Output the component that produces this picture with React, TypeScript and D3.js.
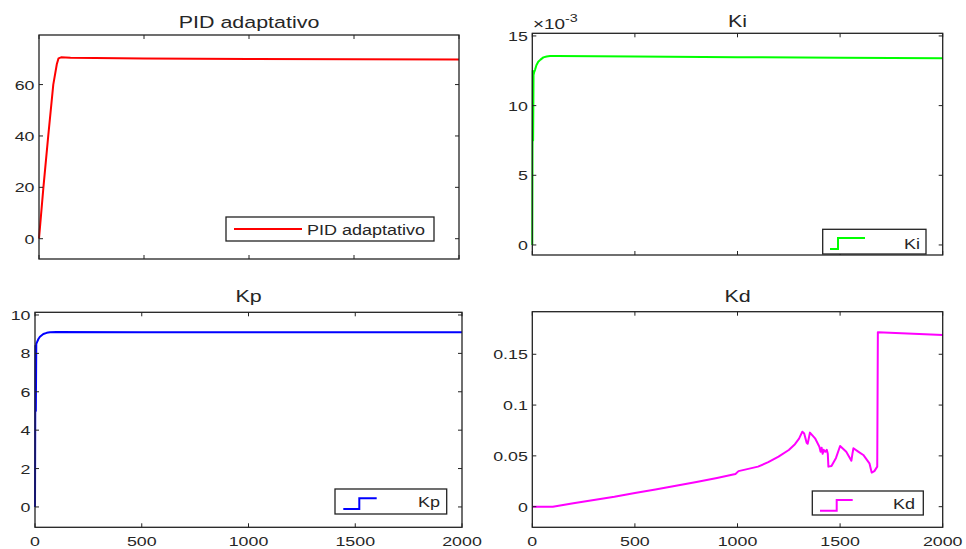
import React from "react";
import * as d3 from "d3";

// ---------- data ----------
const T_PID = [0, 21, 44, 68, 85, 93, 105, 150, 500, 1000, 1500, 2000];
const V_PID = [0, 20, 40, 60, 68, 70.2, 70.6, 70.4, 70.2, 70.0, 69.9, 69.8];

const T_KI = [0, 2, 4, 6, 9, 13, 20, 29, 40, 54, 70, 86, 120, 500, 1000, 1500, 2000];
const V_KI = [0, 0.0125, 0.0075, 0.0122, 0.0124, 0.01255, 0.0129, 0.01315, 0.0133, 0.01346, 0.01353, 0.01356, 0.01356, 0.01352, 0.01348, 0.01344, 0.0134];

const T_KP = [0, 2, 4, 6, 10, 16, 23, 39, 55, 70, 100, 500, 1000, 1500, 2000];
const V_KP = [0, 8.4, 5.0, 8.5, 8.6, 8.75, 8.87, 9.01, 9.07, 9.1, 9.11, 9.1, 9.1, 9.1, 9.1];

const T_KD = [0, 100, 200, 300, 400, 500, 600, 700, 800, 900, 990, 1005, 1100, 1150, 1200, 1250, 1280, 1300, 1316, 1325, 1337, 1342, 1353, 1378, 1399, 1405, 1410, 1415, 1420, 1428, 1435, 1440, 1443, 1458, 1480, 1500, 1530, 1555, 1560, 1565, 1590, 1613, 1643, 1654, 1667, 1681, 1684, 2000];
const V_KD = [0, 0, 0.0033, 0.0066, 0.0098, 0.0135, 0.0168, 0.0205, 0.0243, 0.0283, 0.0322, 0.035, 0.0394, 0.0438, 0.0492, 0.0558, 0.0615, 0.067, 0.0738, 0.072, 0.063, 0.062, 0.0729, 0.0673, 0.059, 0.054, 0.058, 0.052, 0.056, 0.054, 0.056, 0.052, 0.0394, 0.040, 0.048, 0.0597, 0.054, 0.0453, 0.052, 0.0575, 0.054, 0.0509, 0.0427, 0.0335, 0.035, 0.0394, 0.1716, 0.169];

const X_TICKS = [0, 500, 1000, 1500, 2000];
const Y_TICKS_PID = [0, 20, 40, 60];
const Y_TICKS_KI = [0, 0.005, 0.01, 0.015];
const Y_TICKS_KP = [0, 2, 4, 6, 8, 10];
const Y_TICKS_KD = [0, 0.05, 0.1, 0.15];

const TITLES = ["PID adaptativo", "Ki", "Kp", "Kd"];
const LEGENDS = ["PID adaptativo", "Ki", "Kp", "Kd"];

// ---------- styling ----------
const SX = 1.32;
const FONT = "'Liberation Sans', Arial, Helvetica, sans-serif";
const TEXT = "#262626";

function Txt({ x, y, size, anchor = "start", sx = SX, children }: any) {
  return (
    <text
      transform={`translate(${x},${y}) scale(${sx},1)`}
      fontSize={size}
      textAnchor={anchor}
      fontFamily={FONT}
      fill={TEXT}
    >
      {children}
    </text>
  );
}

type PanelProps = {
  box: { l: number; r: number; t: number; b: number };
  yDomain: [number, number];
  t: number[];
  v: number[];
  color: string;
  yTicks: number[];
  fmt: (d: number) => string;
  xLabels: boolean;
  title: string;
  titleY: number;
  legend: { x0: number; x1: number; y0: number; y1: number; label: string; step: boolean; iconX: [number, number, number]; iconY: [number, number]; textX: number; textY: number; anchor: string };
};

function Panel(p: PanelProps) {
  const { box } = p;
  const x = d3.scaleLinear().domain([0, 2000]).range([box.l, box.r]);
  const y = d3.scaleLinear().domain(p.yDomain).range([box.b, box.t]);
  const pts = p.t.map((tt, i) => [tt, p.v[i]] as [number, number]);
  const line = d3.line<[number, number]>().x((d) => x(d[0])).y((d) => y(d[1]));
  const tl = 4;
  const lg = p.legend;
  return (
    <g>
      <path d={line(pts) || ""} fill="none" stroke={p.color} strokeWidth={2} strokeLinejoin="round" />
      {X_TICKS.map((d) => (
        <g key={"x" + d}>
          <line x1={x(d)} x2={x(d)} y1={box.b} y2={box.b - tl} stroke="#222" />
          <line x1={x(d)} x2={x(d)} y1={box.t} y2={box.t + tl} stroke="#222" />
        </g>
      ))}
      {p.yTicks.map((d) => (
        <g key={"y" + d}>
          <line x1={box.l} x2={box.l + tl} y1={y(d)} y2={y(d)} stroke="#222" />
          <line x1={box.r} x2={box.r - tl} y1={y(d)} y2={y(d)} stroke="#222" />
          <Txt x={box.l - 4.5} y={y(d) + 5} size={13.5} anchor="end">
            {p.fmt(d)}
          </Txt>
        </g>
      ))}
      {p.xLabels &&
        X_TICKS.map((d) => (
          <Txt key={"xl" + d} x={x(d)} y={546} size={13.5} anchor="middle">
            {String(d)}
          </Txt>
        ))}
      <rect x={box.l} y={box.t} width={box.r - box.l} height={box.b - box.t} fill="none" stroke="#222" strokeWidth={1.3} />
      <Txt x={(box.l + box.r) / 2} y={p.titleY} size={16.5} anchor="middle" sx={1.3}>
        {p.title}
      </Txt>
      <rect x={lg.x0} y={lg.y0} width={lg.x1 - lg.x0} height={lg.y1 - lg.y0} fill="#fff" stroke="#222" strokeWidth={1.3} />
      {lg.step ? (
        <path
          d={`M${lg.iconX[0]},${lg.iconY[0]}H${lg.iconX[1]}V${lg.iconY[1]}H${lg.iconX[2]}`}
          fill="none"
          stroke={p.color}
          strokeWidth={2}
        />
      ) : (
        <line x1={lg.iconX[0]} x2={lg.iconX[2]} y1={lg.iconY[0]} y2={lg.iconY[0]} stroke={p.color} strokeWidth={2} />
      )}
      <Txt x={lg.textX} y={lg.textY} size={15} anchor={lg.anchor} sx={1.2}>
        {lg.label}
      </Txt>
    </g>
  );
}

export default function App() {
  return (
    <svg
      width={966}
      height={549}
      style={{ position: "absolute", left: 0, top: 0, background: "#fff" }}
    >
      <rect width={966} height={549} fill="#fff" />
      <Panel
        box={{ l: 39, r: 459, t: 35, b: 259 }}
        yDomain={[-7.9, 79.3]}
        t={T_PID}
        v={V_PID}
        color="#ff0000"
        yTicks={Y_TICKS_PID}
        fmt={(d) => String(d)}
        xLabels={false}
        title={TITLES[0]}
        titleY={27.5}
        legend={{ x0: 226, x1: 434, y0: 217, y1: 241, label: LEGENDS[0], step: false, iconX: [234, 268, 302], iconY: [229, 229], textX: 307, textY: 235, anchor: "start" }}
      />
      <Panel
        box={{ l: 532.3, r: 942.7, t: 33.3, b: 255 }}
        yDomain={[-0.00072, 0.01519]}
        t={T_KI}
        v={V_KI}
        color="#00ff00"
        yTicks={Y_TICKS_KI}
        fmt={(d) => String(Math.round(d * 1000))}
        xLabels={false}
        title={TITLES[1]}
        titleY={26.5}
        legend={{ x0: 822.7, x1: 926, y0: 229.3, y1: 254, label: LEGENDS[1], step: true, iconX: [830, 838, 865], iconY: [249, 238], textX: 920, textY: 248.5, anchor: "end" }}
      />
      <text fontFamily={FONT} fill={TEXT} transform="translate(533,29.3) scale(1.35,1)" fontSize={14}>
        ×10
      </text>
      <text fontFamily={FONT} fill={TEXT} transform="translate(565,21.5) scale(1.3,1)" fontSize={11}>
        -3
      </text>
      <Panel
        box={{ l: 35, r: 462, t: 312.3, b: 527.3 }}
        yDomain={[-1.06, 10.14]}
        t={T_KP}
        v={V_KP}
        color="#0000ff"
        yTicks={Y_TICKS_KP}
        fmt={(d) => String(d)}
        xLabels={true}
        title={TITLES[2]}
        titleY={302.3}
        legend={{ x0: 335, x1: 446.7, y0: 489, y1: 514, label: LEGENDS[2], step: true, iconX: [343.3, 359.3, 376.7], iconY: [509, 498.3], textX: 440, textY: 507, anchor: "end" }}
      />
      <Panel
        box={{ l: 532.3, r: 942.7, t: 311.7, b: 527.3 }}
        yDomain={[-0.0203, 0.1919]}
        t={T_KD}
        v={V_KD}
        color="#ff00ff"
        yTicks={Y_TICKS_KD}
        fmt={(d) => String(d)}
        xLabels={true}
        title={TITLES[3]}
        titleY={302.3}
        legend={{ x0: 812.3, x1: 923.3, y0: 491, y1: 515, label: LEGENDS[3], step: true, iconX: [820, 836.7, 852.7], iconY: [510.7, 500], textX: 915, textY: 509, anchor: "end" }}
      />
    </svg>
  );
}
